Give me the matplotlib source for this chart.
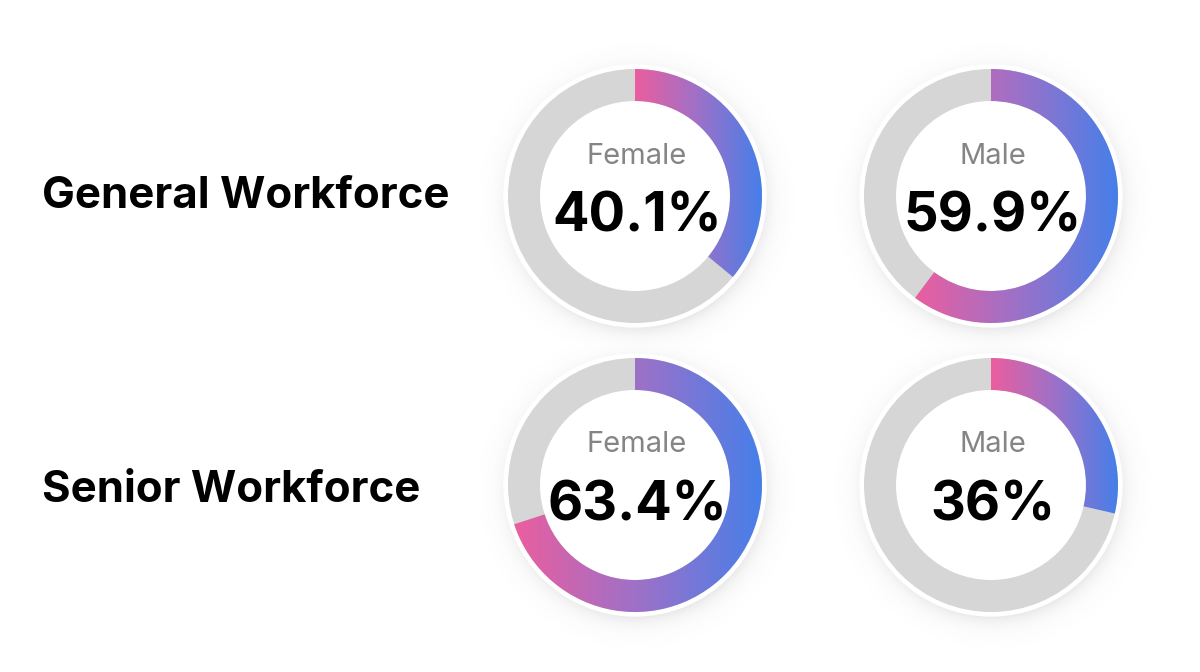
import numpy as np
import matplotlib
matplotlib.use("Agg")
import matplotlib.pyplot as plt
from matplotlib.patches import Wedge, Circle
from matplotlib.colors import LinearSegmentedColormap

# data
rows = ["General Workforce", "Senior Workforce"]
groups = ["Female", "Male"]
value_labels = [["40.1%", "59.9%"], ["63.4%", "36%"]]
# arc lengths as drawn in the picture (percent of full circle)
arc_pct = [[36.0, 60.2], [70.0, 28.6]]

# layout in pixel coordinates
W, H = 1200, 672
col_x = [635, 991]
row_y = [196, 485]
title_dy = [0, 6]
R_OUT, R_IN, R_BORDER = 127, 95, 131

grad = LinearSegmentedColormap.from_list("g", ["#eb5e9f", "#9d71c8", "#467fe9"])
FONT = "Inter"

fig = plt.figure(figsize=(12, 6.72), dpi=100)
ax = fig.add_axes([0, 0, 1, 1])
ax.axis("off")

# soft shadows behind the rings
xx, yy = np.meshgrid(np.arange(W) + 0.5, np.arange(H) + 0.5)
alpha = np.zeros((H, W))
for cy in row_y:
    for cx in col_x:
        d = np.hypot(xx - cx - 2, yy - cy - 5)
        a = 0.16 * np.exp(-np.clip(d - R_BORDER + 6, 0, None) / 9.0)
        alpha = np.maximum(alpha, a)
shadow = np.zeros((H, W, 4))
shadow[..., :3] = 0.35
shadow[..., 3] = alpha
ax.imshow(shadow, extent=(0, W, H, 0), zorder=0, interpolation="bilinear")

for i, row in enumerate(rows):
    cy = row_y[i]
    ax.text(42, cy + title_dy[i], row, fontsize=31.5, fontweight="bold", family=FONT,
            ha="left", va="center", color="black")
    for j, grp in enumerate(groups):
        cx = col_x[j]
        ax.add_patch(Circle((cx, cy), R_BORDER, color="white", zorder=1))
        ax.add_patch(Wedge((cx, cy), R_OUT, 0, 360, width=R_OUT - R_IN,
                           color="#d6d6d6", lw=0, zorder=2))
        p = arc_pct[i][j]
        t1, t2 = -90, -90 + 360 * p / 100
        arc = Wedge((cx, cy), R_OUT, t1, t2, width=R_OUT - R_IN, lw=0,
                    facecolor="none", zorder=3)
        ax.add_patch(arc)
        th = np.radians(np.linspace(t1, t2, 400))
        xs = np.concatenate([cx + R_OUT * np.cos(th), cx + R_IN * np.cos(th)])
        x0, x1 = xs.min(), xs.max()
        img = ax.imshow(np.linspace(0, 1, 256)[None, :], cmap=grad,
                        extent=(x0, x1, cy + R_OUT, cy - R_OUT), aspect="auto",
                        zorder=3, interpolation="bilinear")
        img.set_clip_path(arc)
        ax.text(cx + 2, cy - 40, grp, fontsize=21, fontweight="normal", family=FONT,
                ha="center", va="center", color="#858585", zorder=4)
        ax.text(cx + 2, cy + 21, value_labels[i][j], fontsize=39, fontweight="bold",
                family=FONT, ha="center", va="center", color="black", zorder=4)

ax.set_xlim(0, W)
ax.set_ylim(H, 0)
fig.savefig("out.png", dpi=100, facecolor="white")
